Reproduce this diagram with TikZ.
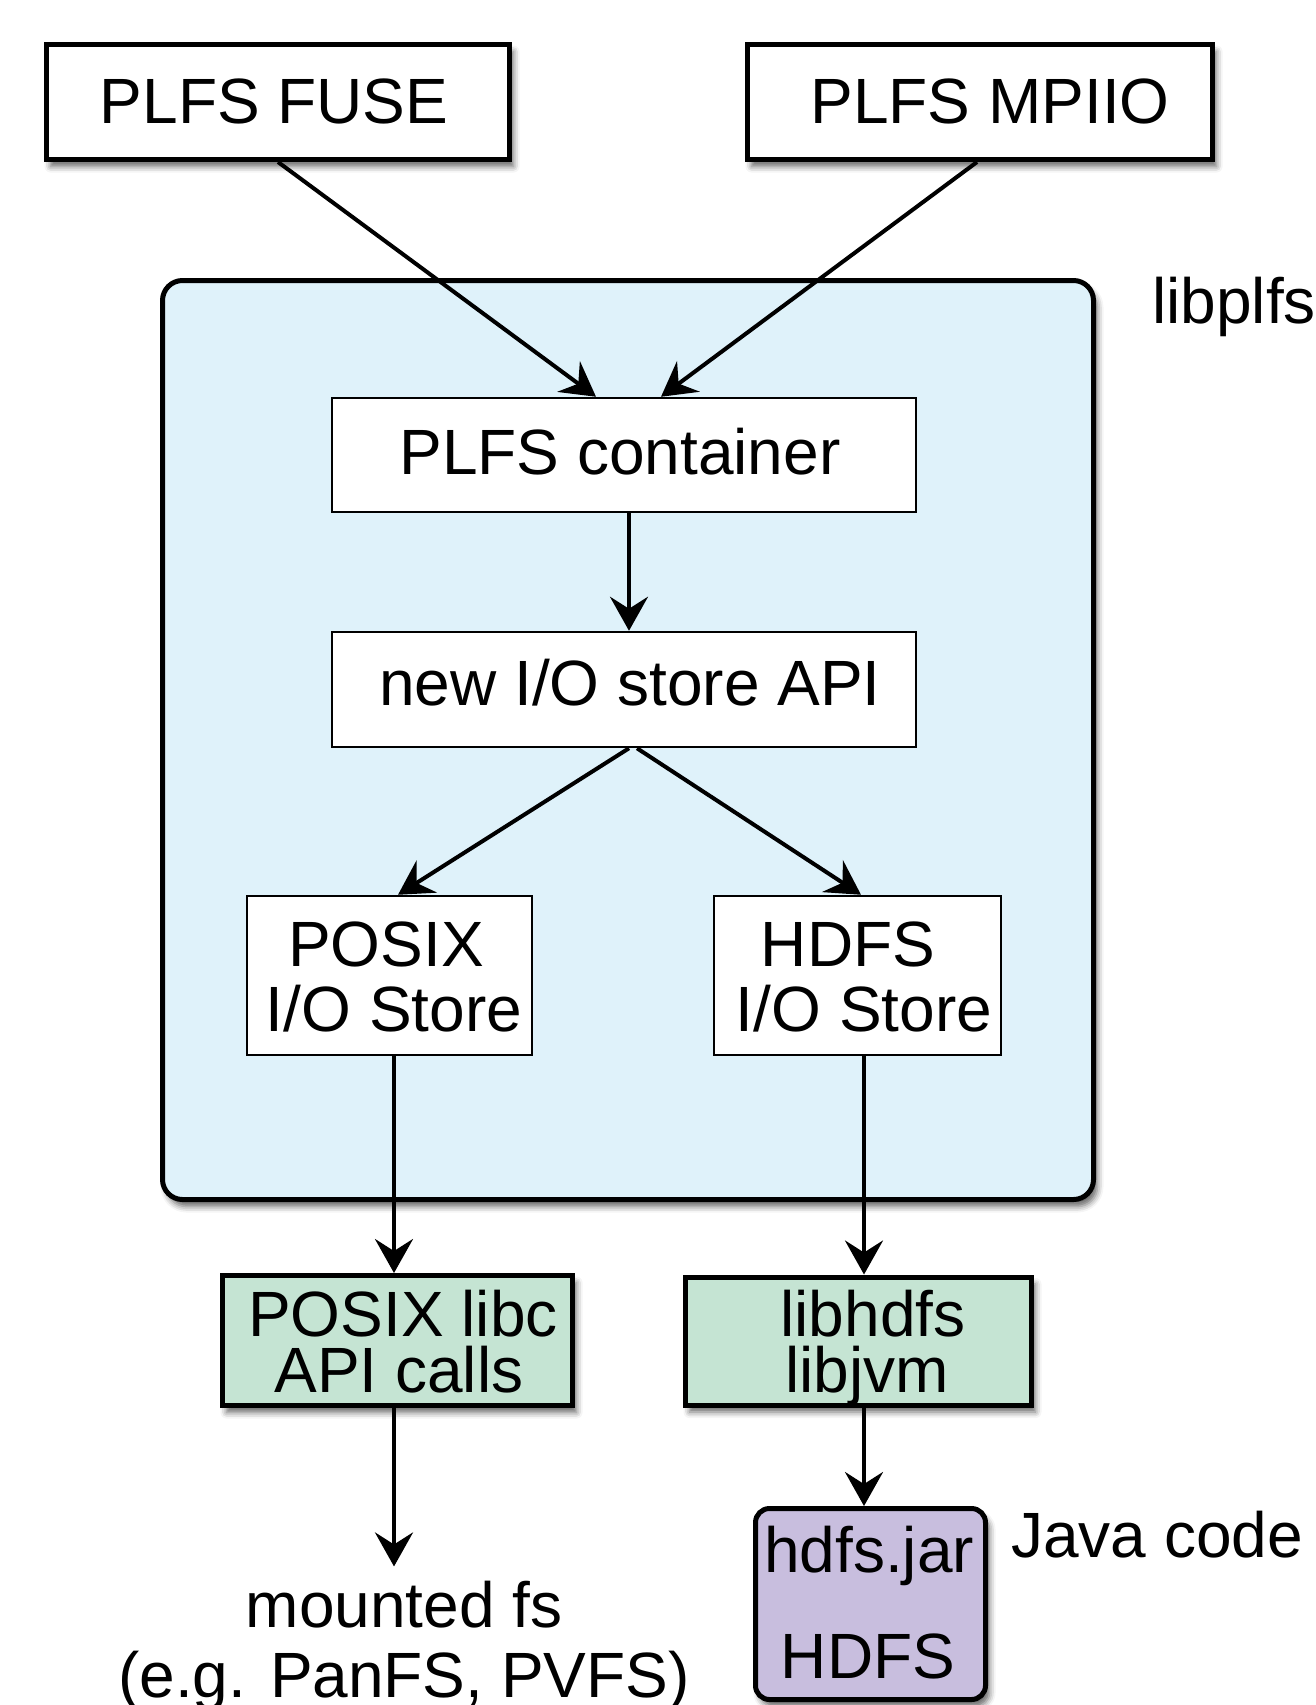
\documentclass[tikz,border=0pt]{standalone}
\usepackage{fontspec}
\setmainfont{Liberation Sans}
\usetikzlibrary{arrows.meta,calc,shadows.blur}

\definecolor{libblue}{RGB}{223,242,250}
\definecolor{libgreen}{RGB}{197,228,211}
\definecolor{javapurple}{RGB}{200,190,222}

\tikzset{
  big/.style={font=\fontsize{64}{66}\selectfont},
  txt/.style={big, inner sep=0pt, anchor=base},
  shade/.style={blur shadow={shadow xshift=4pt, shadow yshift=-7pt,
      shadow blur radius=6pt, shadow opacity=60}},
  topbox/.style={draw, line width=5pt, fill=white, shade, inner sep=0pt},
  innerbox/.style={draw, line width=2.5pt, fill=white, inner sep=0pt},
  libbox/.style={draw, line width=5pt, fill=libgreen, shade, inner sep=0pt},
  jarbox/.style={draw, line width=5pt, fill=javapurple, rounded corners=14pt, shade, inner sep=0pt},
  plfsbox/.style={draw, line width=5pt, fill=libblue, rounded corners=20pt, shade, inner sep=0pt},
  link/.style={line width=4pt, -{Stealth[length=34pt, width=38pt, inset=12pt]}},
}

\begin{document}
\begin{tikzpicture}[x=1pt, y={(0pt,-1pt)}]
\useasboundingbox (0,0) rectangle (1316,1705);

% libplfs frame
\node[plfsbox, minimum width=931pt, minimum height=919pt] (plfs) at (628,740) {};
\node[txt, anchor=base west] (plfslabel) at (1152,323) {libplfs};

% front ends
\node[topbox, minimum width=463pt, minimum height=115pt] (fuse) at (278,102) {};
\node[txt] (fusetext) at (274,123) {PLFS FUSE};
\node[topbox, minimum width=465pt, minimum height=115pt] (mpiio) at (980,102) {};
\node[txt] (mpiiotext) at (990,123) {PLFS MPIIO};

% layers inside libplfs
\node[innerbox, minimum width=584pt, minimum height=114pt] (container) at (624,455) {};
\node[txt] (containertext) at (620,474) {PLFS container};
\node[innerbox, minimum width=584pt, minimum height=115pt] (api) at (624,689.5) {};
\node[txt] (apitext) at (630,705) {new I/O store API};
\node[innerbox, minimum width=285pt, minimum height=159pt] (posixio) at (389.5,975.5) {};
\node[txt] (posixio1) at (386,966) {POSIX};
\node[txt] (posixio2) at (394,1031) {I/O Store};
\node[innerbox, minimum width=287pt, minimum height=159pt] (hdfsio) at (857.5,975.5) {};
\node[txt] (hdfsio1) at (848,966) {HDFS};
\node[txt] (hdfsio2) at (864,1031) {I/O Store};

% libraries below
\node[libbox, minimum width=350pt, minimum height=130pt] (libc) at (397.5,1340.5) {};
\node[txt] (libc1) at (403,1336) {POSIX libc};
\node[txt] (libc2) at (399,1392) {API calls};
\node[libbox, minimum width=346pt, minimum height=128pt] (libhdfs) at (858.5,1341) {};
\node[txt] (libhdfs1) at (873,1336) {libhdfs};
\node[txt] (libhdfs2) at (867,1392) {libjvm};

% Java side
\node[jarbox, minimum width=230pt, minimum height=191pt] (jar) at (870.5,1604) {};
\node[txt] (jar1) at (869,1572) {hdfs.jar};
\node[txt] (jar2) at (868,1678) {HDFS};
\node[txt, anchor=base west] (javalabel) at (1011,1557) {Java code};

% mounted file systems
\node[txt] (mounted) at (404,1627) {mounted fs};
\node[txt] (mounted2) at (404,1697) {(e.g. PanFS, PVFS)};

% connectors
\draw[link] (fuse.south) -- ($(container.north)+(-28,0)$);
\draw[link] ($(mpiio.south)+(-3,0)$) -- ($(container.north)+(37,0)$);
\draw[link] ($(container.south)+(5,0)$) -- ($(api.north)+(5,0)$);
\draw[link] ($(api.south)+(5,0)$) -- ($(posixio.north)+(8.5,0)$);
\draw[link] ($(api.south)+(13,0)$) -- ($(hdfsio.north)+(3.5,0)$);
\draw[link] ($(posixio.south)+(4.5,0)$) -- ($(libc.north)+(-3.5,0)$);
\draw[link] ($(hdfsio.south)+(6.5,0)$) -- ($(libhdfs.north)+(5.5,0)$);
\draw[link] ($(libc.south)+(-3.5,0)$) -- ($(mounted.north)+(-10,-14)$);
\draw[link] ($(libhdfs.south)+(5.5,0)$) -- ($(jar.north)+(-6.5,0)$);
\end{tikzpicture}
\end{document}
